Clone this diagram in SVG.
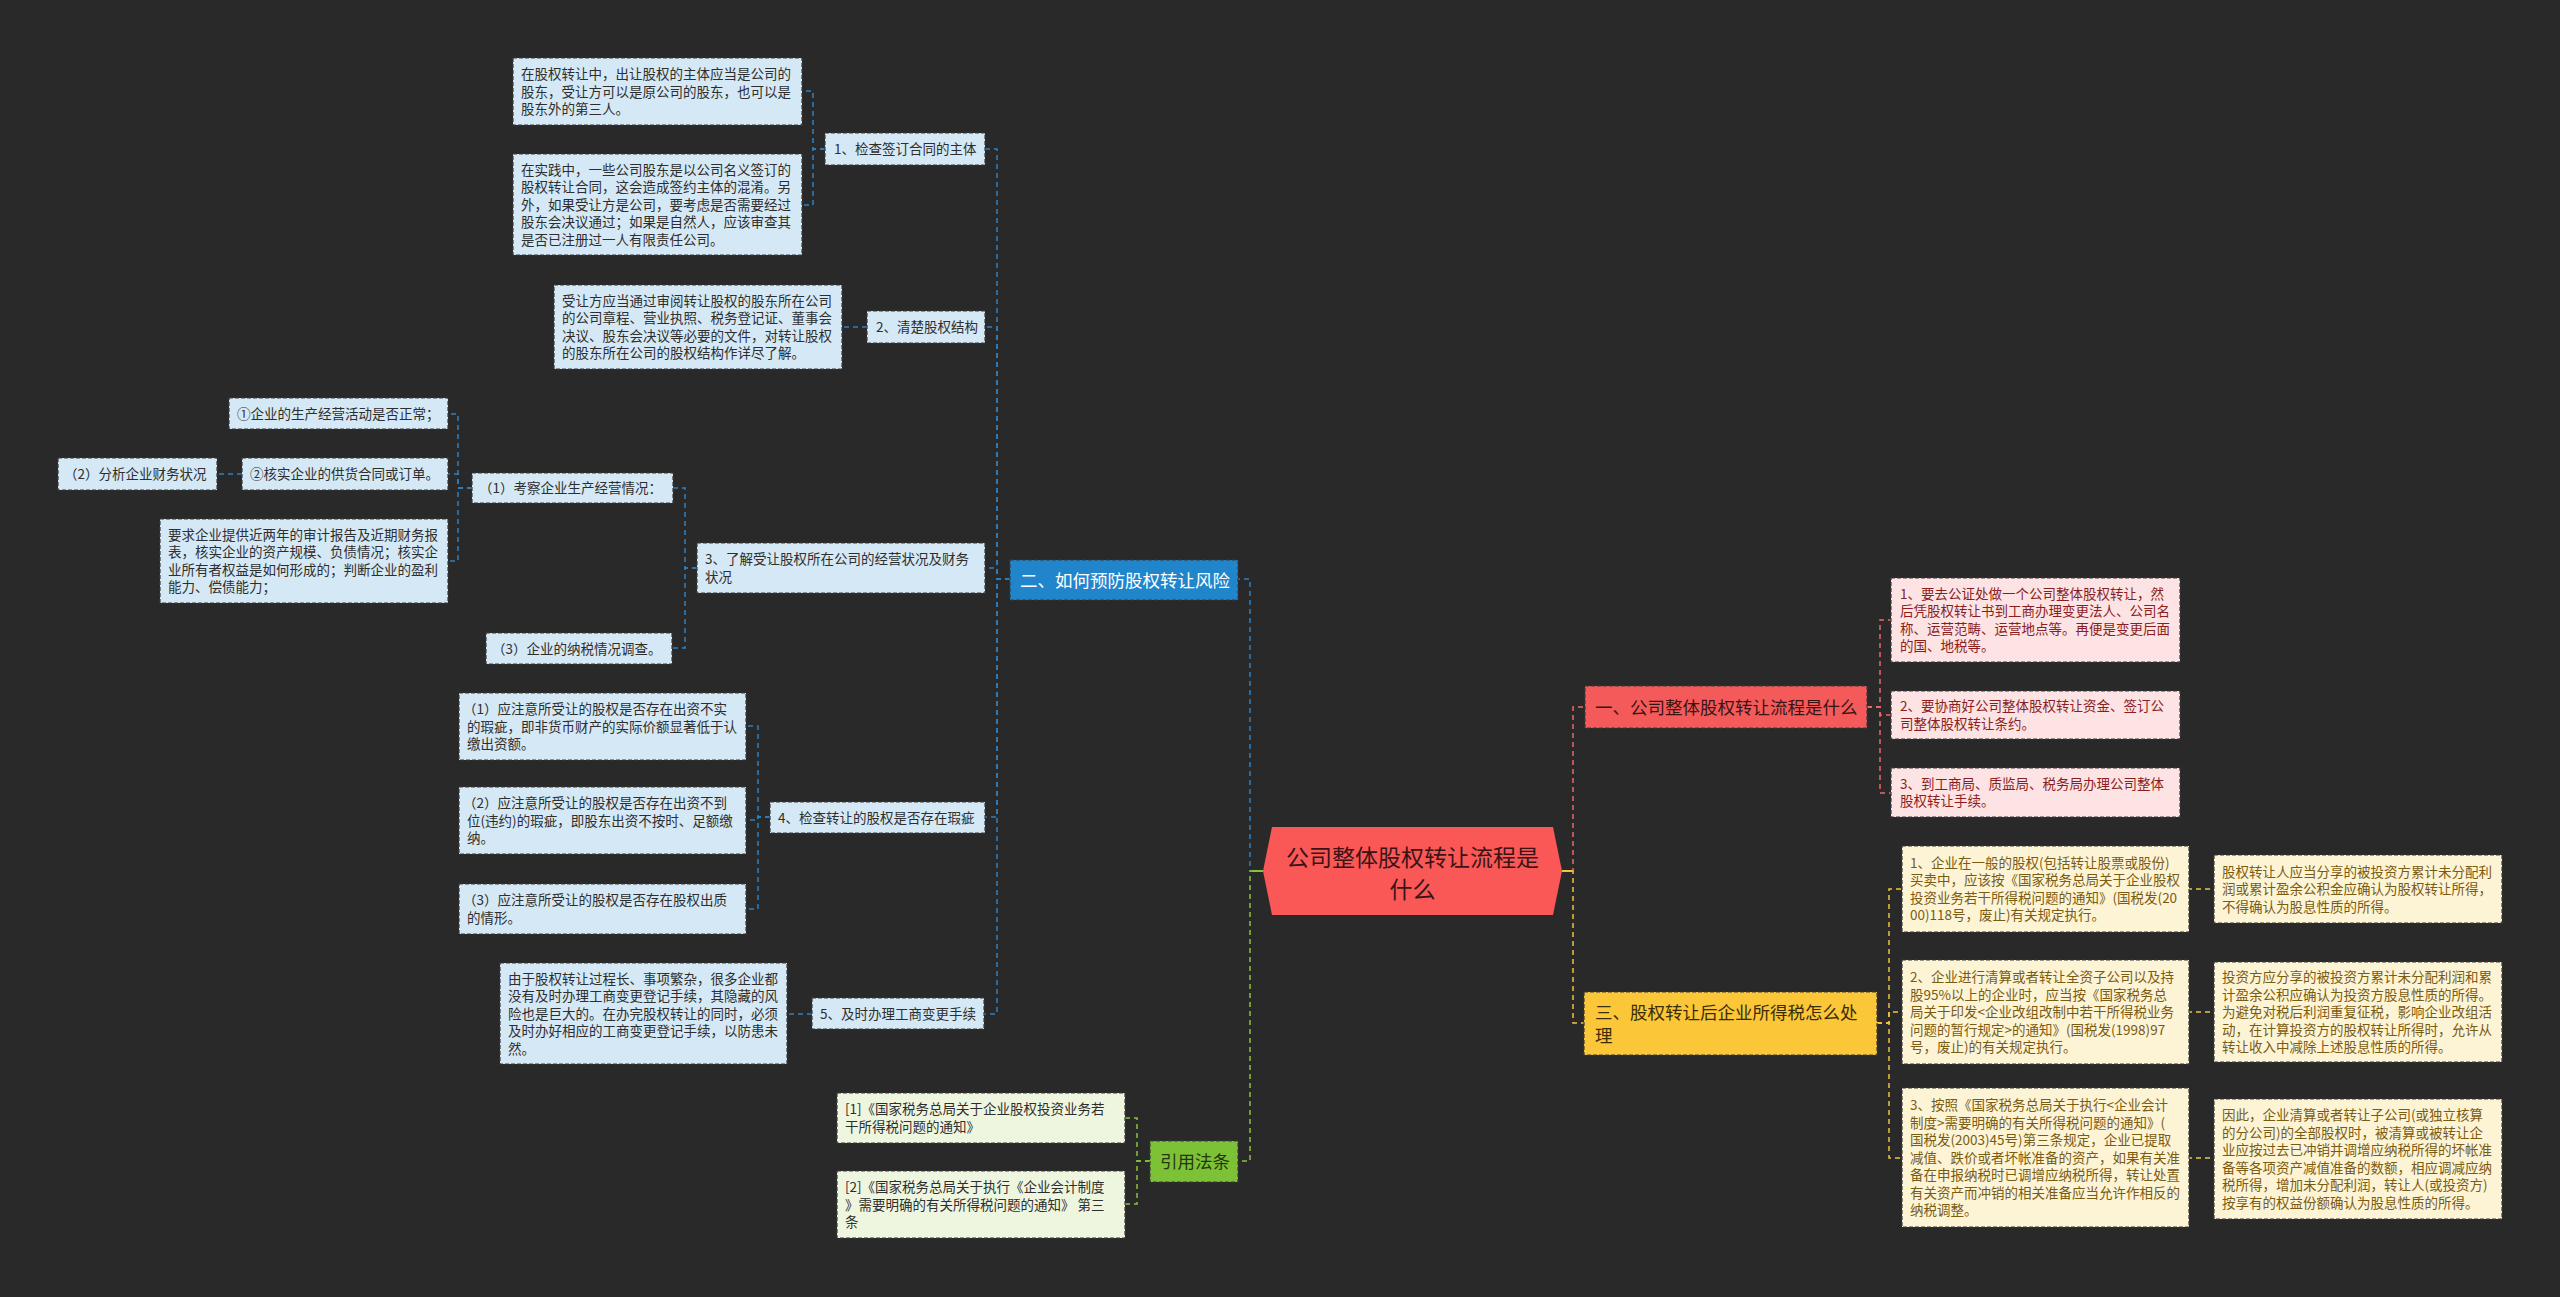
<svg xmlns="http://www.w3.org/2000/svg" width="2560" height="1297" viewBox="0 0 2560 1297">
<style>
text{font-family:"Microsoft YaHei","Noto Sans CJK SC","Noto Sans",sans-serif;}
.s{font-size:13.5px;}
.m{font-size:17.5px;}
.bx{stroke:#3a3a3a;stroke-width:1.2;stroke-dasharray:4 2;}
.lb{fill:#d5e8f5;}
.tb{fill:#2e2e2e;}
.pk{fill:#fde3e3;}
.tp{fill:#8a1e1e;}
.yl{fill:#fdf4d6;}
.ty{fill:#7a5b12;}
.gr{fill:#eef6df;}
.tg{fill:#2e2e2e;}
.tr{fill:#3a1414;}
.tw{fill:#ffffff;}
.to{fill:#3a2c05;}
.tl{fill:#24360c;}
.c{fill:none;stroke-width:1.5;stroke-dasharray:5 4;}
.cb{stroke:#2d80c0;}
.cr{stroke:#e86a68;}
.cy{stroke:#f2c23c;}
.cg{stroke:#86c43c;}
</style>
<rect width="2560" height="1297" fill="#292929"/>
<g id="connectors">
<path class="c cb" d="M1263 871H1250V579H1238"/>
<path class="c cg" d="M1263 871H1250V1161H1238"/>
<path d="M1252 871H1263" stroke="#86c43c" stroke-width="2"/>
<path class="c cr" d="M1562 871H1573V707H1585"/>
<path class="c cy" d="M1562 871H1573V1023H1584"/>
<path d="M1562 871H1572" stroke="#f2c23c" stroke-width="2"/>
<path class="c cb" d="M1010 579H997V149H985"/>
<path class="c cb" d="M1010 579H997V327H985"/>
<path class="c cb" d="M1010 579H997V568H985"/>
<path class="c cb" d="M1010 579H997V817H985"/>
<path class="c cb" d="M1010 579H997V1014H984"/>
<path class="c cb" d="M825 149H813V91H802"/>
<path class="c cb" d="M825 149H813V205H802"/>
<path class="c cb" d="M867 327H842"/>
<path class="c cb" d="M697 568H685V488H673"/>
<path class="c cb" d="M697 568H685V648H672"/>
<path class="c cb" d="M472 488H458V414H448"/>
<path class="c cb" d="M472 488H458V474H448"/>
<path class="c cb" d="M472 488H458V561H448"/>
<path class="c cb" d="M242 474H217"/>
<path class="c cb" d="M770 817H758V726H746"/>
<path class="c cb" d="M770 817H758V820H746"/>
<path class="c cb" d="M770 817H758V909H746"/>
<path class="c cb" d="M812 1014H787"/>
<path class="c cg" d="M1150 1161H1137V1118H1125"/>
<path class="c cg" d="M1150 1161H1137V1204H1125"/>
<path class="c cr" d="M1867 707H1880V620H1891"/>
<path class="c cr" d="M1867 707H1880V715H1891"/>
<path class="c cr" d="M1867 707H1880V793H1891"/>
<path class="c cy" d="M1877 1023H1889V889H1902"/>
<path class="c cy" d="M1877 1023H1889V1012H1902"/>
<path class="c cy" d="M1877 1023H1889V1158H1902"/>
<path class="c cy" d="M2187 889H2214"/>
<path class="c cy" d="M2187 1012H2214"/>
<path class="c cy" d="M2187 1158H2214"/>
</g>
<g id="center">
<polygon points="1263,871 1272,827 1553,827 1562,871 1553,915 1272,915" fill="#fa5757"/>
<text x="1412.5" y="865.7" text-anchor="middle" style="font-size:23px" class="tr">公司整体股权转让流程是</text>
<text x="1412.5" y="897.7" text-anchor="middle" style="font-size:23px" class="tr">什么</text>
</g>
<g id="n-er">
<rect x="1010" y="560" width="228" height="40" fill="#2185cc" class="bx"/>
<text x="1020" y="586.5" class="m tw">二、如何预防股权转让风险</text>
</g>
<g id="n1">
<rect x="825" y="133" width="160" height="32" class="bx lb"/>
<text x="834" y="154" class="s tb">1、检查签订合同的主体</text>
</g>
<g id="a1">
<rect x="513" y="58" width="289" height="67" class="bx lb"/>
<text class="s tb"><tspan x="521" y="79">在股权转让中，出让股权的主体应当是公司的</tspan><tspan x="521" y="96.5">股东，受让方可以是原公司的股东，也可以是</tspan><tspan x="521" y="114">股东外的第三人。</tspan></text>
</g>
<g id="a2">
<rect x="513" y="154" width="289" height="101" class="bx lb"/>
<text class="s tb"><tspan x="521" y="174.5">在实践中，一些公司股东是以公司名义签订的</tspan><tspan x="521" y="192">股权转让合同，这会造成签约主体的混淆。另</tspan><tspan x="521" y="209.5">外，如果受让方是公司，要考虑是否需要经过</tspan><tspan x="521" y="227">股东会决议通过；如果是自然人，应该审查其</tspan><tspan x="521" y="244.5">是否已注册过一人有限责任公司。</tspan></text>
</g>
<g id="n2">
<rect x="867" y="311" width="118" height="32" class="bx lb"/>
<text x="876" y="332" class="s tb">2、清楚股权结构</text>
</g>
<g id="b1">
<rect x="554" y="285" width="288" height="84" class="bx lb"/>
<text class="s tb"><tspan x="562" y="305.75">受让方应当通过审阅转让股权的股东所在公司</tspan><tspan x="562" y="323.25">的公司章程、营业执照、税务登记证、董事会</tspan><tspan x="562" y="340.75">决议、股东会决议等必要的文件，对转让股权</tspan><tspan x="562" y="358.25">的股东所在公司的股权结构作详尽了解。</tspan></text>
</g>
<g id="n3">
<rect x="697" y="543" width="288" height="50" class="bx lb"/>
<text class="s tb"><tspan x="705" y="564.25">3、了解受让股权所在公司的经营状况及财务</tspan><tspan x="705" y="581.75">状况</tspan></text>
</g>
<g id="k1">
<rect x="472" y="473" width="201" height="30" class="bx lb"/>
<text x="479" y="493" class="s tb">（1）考察企业生产经营情况：</text>
</g>
<g id="q1">
<rect x="229" y="398" width="219" height="31" class="bx lb"/>
<text x="237" y="418.5" class="s tb">①企业的生产经营活动是否正常；</text>
</g>
<g id="q2">
<rect x="242" y="458" width="206" height="32" class="bx lb"/>
<text x="250" y="479" class="s tb">②核实企业的供货合同或订单。</text>
</g>
<g id="k2">
<rect x="58" y="458" width="159" height="32" class="bx lb"/>
<text x="64" y="479" class="s tb">（2）分析企业财务状况</text>
</g>
<g id="q3">
<rect x="160" y="519" width="288" height="84" class="bx lb"/>
<text class="s tb"><tspan x="168" y="539.75">要求企业提供近两年的审计报告及近期财务报</tspan><tspan x="168" y="557.25">表，核实企业的资产规模、负债情况；核实企</tspan><tspan x="168" y="574.75">业所有者权益是如何形成的；判断企业的盈利</tspan><tspan x="168" y="592.25">能力、偿债能力；</tspan></text>
</g>
<g id="k3">
<rect x="486" y="633" width="186" height="31" class="bx lb"/>
<text x="492" y="653.5" class="s tb">（3）企业的纳税情况调查。</text>
</g>
<g id="n4">
<rect x="770" y="802" width="215" height="31" class="bx lb"/>
<text x="778" y="822.5" class="s tb">4、检查转让的股权是否存在瑕疵</text>
</g>
<g id="c1">
<rect x="459" y="693" width="287" height="67" class="bx lb"/>
<text class="s tb"><tspan x="463" y="714">（1）应注意所受让的股权是否存在出资不实</tspan><tspan x="467" y="731.5">的瑕疵，即非货币财产的实际价额显著低于认</tspan><tspan x="467" y="749">缴出资额。</tspan></text>
</g>
<g id="c2">
<rect x="459" y="787" width="287" height="67" class="bx lb"/>
<text class="s tb"><tspan x="463" y="808">（2）应注意所受让的股权是否存在出资不到</tspan><tspan x="467" y="825.5">位(违约)的瑕疵，即股东出资不按时、足额缴</tspan><tspan x="467" y="843">纳。</tspan></text>
</g>
<g id="c3">
<rect x="459" y="884" width="287" height="50" class="bx lb"/>
<text class="s tb"><tspan x="463" y="905.25">（3）应注意所受让的股权是否存在股权出质</tspan><tspan x="467" y="922.75">的情形。</tspan></text>
</g>
<g id="n5">
<rect x="812" y="998" width="172" height="31" class="bx lb"/>
<text x="820" y="1018.5" class="s tb">5、及时办理工商变更手续</text>
</g>
<g id="d1">
<rect x="500" y="963" width="287" height="101" class="bx lb"/>
<text class="s tb"><tspan x="508" y="983.5">由于股权转让过程长、事项繁杂，很多企业都</tspan><tspan x="508" y="1001">没有及时办理工商变更登记手续，其隐藏的风</tspan><tspan x="508" y="1018.5">险也是巨大的。在办完股权转让的同时，必须</tspan><tspan x="508" y="1036">及时办好相应的工商变更登记手续，以防患未</tspan><tspan x="508" y="1053.5">然。</tspan></text>
</g>
<g id="n-law">
<rect x="1150" y="1141" width="88" height="41" fill="#7cc136" class="bx"/>
<text x="1160" y="1168" class="m tl">引用法条</text>
</g>
<g id="h1">
<rect x="837" y="1093" width="288" height="50" class="bx gr"/>
<text class="s tg"><tspan x="845" y="1114.25">[1]《国家税务总局关于企业股权投资业务若</tspan><tspan x="845" y="1131.75">干所得税问题的通知》</tspan></text>
</g>
<g id="h2">
<rect x="837" y="1171" width="288" height="67" class="bx gr"/>
<text class="s tg"><tspan x="845" y="1192">[2]《国家税务总局关于执行《企业会计制度</tspan><tspan x="845" y="1209.5">》需要明确的有关所得税问题的通知》 第三</tspan><tspan x="845" y="1227">条</tspan></text>
</g>
<g id="n-yi">
<rect x="1585" y="686" width="282" height="42" fill="#f45a59" class="bx"/>
<text x="1595" y="713.5" class="m tr">一、公司整体股权转让流程是什么</text>
</g>
<g id="e1">
<rect x="1891" y="578" width="289" height="84" class="bx pk"/>
<text class="s tp"><tspan x="1900" y="598.75">1、要去公证处做一个公司整体股权转让，然</tspan><tspan x="1900" y="616.25">后凭股权转让书到工商办理变更法人、公司名</tspan><tspan x="1900" y="633.75">称、运营范畴、运营地点等。再便是变更后面</tspan><tspan x="1900" y="651.25">的国、地税等。</tspan></text>
</g>
<g id="e2">
<rect x="1891" y="691" width="289" height="48" class="bx pk"/>
<text class="s tp"><tspan x="1900" y="711.25">2、要协商好公司整体股权转让资金、签订公</tspan><tspan x="1900" y="728.75">司整体股权转让条约。</tspan></text>
</g>
<g id="e3">
<rect x="1891" y="768" width="289" height="49" class="bx pk"/>
<text class="s tp"><tspan x="1900" y="788.75">3、到工商局、质监局、税务局办理公司整体</tspan><tspan x="1900" y="806.25">股权转让手续。</tspan></text>
</g>
<g id="n-san">
<rect x="1584" y="992" width="293" height="63" fill="#fbc637" class="bx"/>
<text class="m to"><tspan x="1595" y="1018.5">三、股权转让后企业所得税怎么处</tspan><tspan x="1595" y="1041.5">理</tspan></text>
</g>
<g id="f1">
<rect x="1902" y="846" width="287" height="86" class="bx yl"/>
<text class="s ty"><tspan x="1910" y="867.75">1、企业在一般的股权(包括转让股票或股份)</tspan><tspan x="1910" y="885.25">买卖中，应该按《国家税务总局关于企业股权</tspan><tspan x="1910" y="902.75">投资业务若干所得税问题的通知》(国税发(20</tspan><tspan x="1910" y="920.25">00)118号，废止)有关规定执行。</tspan></text>
</g>
<g id="g1">
<rect x="2214" y="855" width="288" height="68" class="bx yl"/>
<text class="s ty"><tspan x="2222" y="876.5">股权转让人应当分享的被投资方累计未分配利</tspan><tspan x="2222" y="894">润或累计盈余公积金应确认为股权转让所得，</tspan><tspan x="2222" y="911.5">不得确认为股息性质的所得。</tspan></text>
</g>
<g id="f2">
<rect x="1902" y="960" width="287" height="104" class="bx yl"/>
<text class="s ty"><tspan x="1910" y="982">2、企业进行清算或者转让全资子公司以及持</tspan><tspan x="1910" y="999.5">股95%以上的企业时，应当按《国家税务总</tspan><tspan x="1910" y="1017">局关于印发&lt;企业改组改制中若干所得税业务</tspan><tspan x="1910" y="1034.5">问题的暂行规定&gt;的通知》(国税发(1998)97</tspan><tspan x="1910" y="1052">号，废止)的有关规定执行。</tspan></text>
</g>
<g id="g2">
<rect x="2214" y="962" width="288" height="100" class="bx yl"/>
<text class="s ty"><tspan x="2222" y="982">投资方应分享的被投资方累计未分配利润和累</tspan><tspan x="2222" y="999.5">计盈余公积应确认为投资方股息性质的所得。</tspan><tspan x="2222" y="1017">为避免对税后利润重复征税，影响企业改组活</tspan><tspan x="2222" y="1034.5">动，在计算投资方的股权转让所得时，允许从</tspan><tspan x="2222" y="1052">转让收入中减除上述股息性质的所得。</tspan></text>
</g>
<g id="f3">
<rect x="1902" y="1088" width="287" height="139" class="bx yl"/>
<text class="s ty"><tspan x="1910" y="1110">3、按照《国家税务总局关于执行&lt;企业会计</tspan><tspan x="1910" y="1127.5">制度&gt;需要明确的有关所得税问题的通知》(</tspan><tspan x="1910" y="1145">国税发(2003)45号)第三条规定，企业已提取</tspan><tspan x="1910" y="1162.5">减值、跌价或者坏帐准备的资产，如果有关准</tspan><tspan x="1910" y="1180">备在申报纳税时已调增应纳税所得，转让处置</tspan><tspan x="1910" y="1197.5">有关资产而冲销的相关准备应当允许作相反的</tspan><tspan x="1910" y="1215">纳税调整。</tspan></text>
</g>
<g id="g3">
<rect x="2214" y="1099" width="288" height="120" class="bx yl"/>
<text class="s ty"><tspan x="2222" y="1120.25">因此，企业清算或者转让子公司(或独立核算</tspan><tspan x="2222" y="1137.75">的分公司)的全部股权时，被清算或被转让企</tspan><tspan x="2222" y="1155.25">业应按过去已冲销并调增应纳税所得的坏帐准</tspan><tspan x="2222" y="1172.75">备等各项资产减值准备的数额，相应调减应纳</tspan><tspan x="2222" y="1190.25">税所得，增加未分配利润，转让人(或投资方)</tspan><tspan x="2222" y="1207.75">按享有的权益份额确认为股息性质的所得。</tspan></text>
</g>
</svg>
